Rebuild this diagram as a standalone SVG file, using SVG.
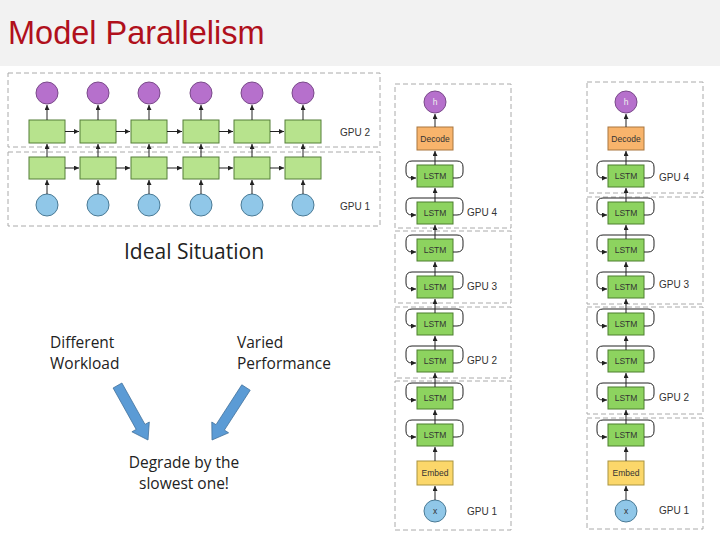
<svg xmlns="http://www.w3.org/2000/svg" width="720" height="540" viewBox="0 0 720 540">
<defs>
<marker id="ah" markerUnits="userSpaceOnUse" markerWidth="5" markerHeight="5" refX="5" refY="2.5" orient="auto"><path d="M0,0 L5,2.5 L0,5 z" fill="#222"/></marker>
<style>
.dash{fill:none;stroke:#aaa;stroke-width:1;stroke-dasharray:5 3}
.pc{fill:#b670cc;stroke:#7a4a8a;stroke-width:1}
.bc{fill:#90c7e8;stroke:#4a7a95;stroke-width:1}
.gb{fill:#b7e38d;stroke:#557f38;stroke-width:1}
.ls{fill:#8dd35f;stroke:#4d7f2f;stroke-width:1}
.dec{fill:#f8b46c;stroke:#a9763f;stroke-width:1}
.emb{fill:#fbd76a;stroke:#a99440;stroke-width:1}
.ln{fill:none;stroke:#222;stroke-width:1;marker-end:url(#ah)}
.t{font-family:"Liberation Sans",Arial,sans-serif;fill:#333}
.g{font-size:10px}
.s{font-size:8.5px;text-anchor:middle}
.c{font-family:"Open Sans","Liberation Sans",sans-serif;fill:#222}
</style>
</defs>
<rect x="0" y="0" width="720" height="540" fill="#fff"/>
<rect x="0" y="0" width="720" height="66" fill="#f2f2f2"/>
<text x="8" y="44" font-family="Liberation Sans,Arial,sans-serif" font-size="32.5" fill="#b0101c">Model Parallelism</text>

<g id="left-frames">
<rect class="dash" x="8" y="73" width="372" height="74"/>
<rect class="dash" x="8" y="152" width="372" height="74"/>
<text class="t g" x="340" y="136">GPU 2</text>
<text class="t g" x="340" y="210">GPU 1</text>
</g>
<g id="out1"><circle class="pc" cx="47" cy="93" r="11"/></g>
<g id="out2"><circle class="pc" cx="98" cy="93" r="11"/></g>
<g id="out3"><circle class="pc" cx="149" cy="93" r="11"/></g>
<g id="out4"><circle class="pc" cx="201" cy="93" r="11"/></g>
<g id="out5"><circle class="pc" cx="252" cy="93" r="11"/></g>
<g id="out6"><circle class="pc" cx="303" cy="93" r="11"/></g>
<g id="top1"><rect class="gb" x="29" y="120" width="36" height="23"/></g>
<g id="top2"><rect class="gb" x="80" y="120" width="36" height="23"/></g>
<g id="top3"><rect class="gb" x="131" y="120" width="36" height="23"/></g>
<g id="top4"><rect class="gb" x="183" y="120" width="36" height="23"/></g>
<g id="top5"><rect class="gb" x="234" y="120" width="36" height="23"/></g>
<g id="top6"><rect class="gb" x="285" y="120" width="36" height="23"/></g>
<g id="bot1"><rect class="gb" x="29" y="157" width="36" height="22"/></g>
<g id="bot2"><rect class="gb" x="80" y="157" width="36" height="22"/></g>
<g id="bot3"><rect class="gb" x="131" y="157" width="36" height="22"/></g>
<g id="bot4"><rect class="gb" x="183" y="157" width="36" height="22"/></g>
<g id="bot5"><rect class="gb" x="234" y="157" width="36" height="22"/></g>
<g id="bot6"><rect class="gb" x="285" y="157" width="36" height="22"/></g>
<g id="in1"><circle class="bc" cx="47" cy="205" r="11"/></g>
<g id="in2"><circle class="bc" cx="98" cy="205" r="11"/></g>
<g id="in3"><circle class="bc" cx="149" cy="205" r="11"/></g>
<g id="in4"><circle class="bc" cx="201" cy="205" r="11"/></g>
<g id="in5"><circle class="bc" cx="252" cy="205" r="11"/></g>
<g id="in6"><circle class="bc" cx="303" cy="205" r="11"/></g>

<g id="left-connectors">
<path class="ln" d="M47,120V105"/><path class="ln" d="M98,120V105"/><path class="ln" d="M149,120V105"/><path class="ln" d="M201,120V105"/><path class="ln" d="M252,120V105"/><path class="ln" d="M303,120V105"/>
<path class="ln" d="M47,157V144"/><path class="ln" d="M98,157V144"/><path class="ln" d="M149,157V144"/><path class="ln" d="M201,157V144"/><path class="ln" d="M252,157V144"/><path class="ln" d="M303,157V144"/>
<path class="ln" d="M47,194V180"/><path class="ln" d="M98,194V180"/><path class="ln" d="M149,194V180"/><path class="ln" d="M201,194V180"/><path class="ln" d="M252,194V180"/><path class="ln" d="M303,194V180"/>
<path class="ln" d="M65,131.5H79"/><path class="ln" d="M116,131.5H130"/><path class="ln" d="M167,131.5H182"/><path class="ln" d="M219,131.5H233"/><path class="ln" d="M270,131.5H284"/>
<path class="ln" d="M65,168H79"/><path class="ln" d="M116,168H130"/><path class="ln" d="M167,168H182"/><path class="ln" d="M219,168H233"/><path class="ln" d="M270,168H284"/>
</g>

<text class="c" x="124" y="259" font-size="21">Ideal Situation</text>
<text class="c" x="50" y="348" font-size="15.5">Different</text>
<text class="c" x="50" y="369" font-size="15.5">Workload</text>
<text class="c" x="237" y="348" font-size="15.5">Varied</text>
<text class="c" x="237" y="369" font-size="15.5">Performance</text>
<text class="c" x="184" y="468" font-size="15.5" text-anchor="middle">Degrade by the</text>
<text class="c" x="184" y="489" font-size="15.5" text-anchor="middle">slowest one!</text>
<g id="arrow-left"><polygon points="121.9,383 145,424.4 149.3,422 148,440 131.9,431.8 136.2,429.4 113.1,388" fill="#5b9bd5" stroke="#41719c" stroke-width="0.8"/></g>
<g id="arrow-right"><polygon points="250.2,390.2 224.4,430.1 228.6,432.8 212,440 211.8,422 216,424.7 241.8,384.8" fill="#5b9bd5" stroke="#41719c" stroke-width="0.8"/></g>

<g id="c1-frames">
<rect class="dash" x="395" y="84" width="116" height="144"/>
<rect class="dash" x="395" y="231" width="116" height="72"/>
<rect class="dash" x="395" y="307" width="116" height="71"/>
<rect class="dash" x="395" y="381" width="116" height="149"/>
<text class="t g" x="467" y="216">GPU 4</text>
<text class="t g" x="467" y="290">GPU 3</text>
<text class="t g" x="467" y="364">GPU 2</text>
<text class="t g" x="467" y="515">GPU 1</text>
</g>
<g id="c1-h"><circle class="pc" cx="435" cy="102" r="11"/><text class="t s" x="435" y="105" style="fill:#eee">h</text></g>
<g id="c1-decode"><rect class="dec" x="417" y="127" width="36" height="23"/><text class="t s" x="435" y="141.5">Decode</text></g>
<g id="c1-lstm0"><rect class="ls" x="417" y="165" width="36" height="22"/><text class="t s" x="435" y="179">LSTM</text></g>
<g id="c1-lstm1"><rect class="ls" x="417" y="202" width="36" height="22"/><text class="t s" x="435" y="216">LSTM</text></g>
<g id="c1-lstm2"><rect class="ls" x="417" y="239" width="36" height="22"/><text class="t s" x="435" y="253">LSTM</text></g>
<g id="c1-lstm3"><rect class="ls" x="417" y="276" width="36" height="22"/><text class="t s" x="435" y="290">LSTM</text></g>
<g id="c1-lstm4"><rect class="ls" x="417" y="313" width="36" height="22"/><text class="t s" x="435" y="327">LSTM</text></g>
<g id="c1-lstm5"><rect class="ls" x="417" y="350" width="36" height="22"/><text class="t s" x="435" y="364">LSTM</text></g>
<g id="c1-lstm6"><rect class="ls" x="417" y="387" width="36" height="22"/><text class="t s" x="435" y="401">LSTM</text></g>
<g id="c1-lstm7"><rect class="ls" x="417" y="424" width="36" height="22"/><text class="t s" x="435" y="438">LSTM</text></g>
<g id="c1-embed"><rect class="emb" x="417" y="461" width="36" height="24"/><text class="t s" x="435" y="476">Embed</text></g>
<g id="c1-x"><circle class="bc" cx="435" cy="511" r="11"/><text class="t s" x="435" y="514">x</text></g>

<g id="c2-frames">
<rect class="dash" x="587" y="82" width="116" height="111"/>
<rect class="dash" x="587" y="197" width="116" height="107"/>
<rect class="dash" x="587" y="307" width="116" height="107"/>
<rect class="dash" x="587" y="418" width="116" height="111"/>
<text class="t g" x="659" y="181">GPU 4</text>
<text class="t g" x="659" y="288">GPU 3</text>
<text class="t g" x="659" y="401">GPU 2</text>
<text class="t g" x="659" y="514">GPU 1</text>
</g>
<g id="c2-h"><circle class="pc" cx="626" cy="102" r="11"/><text class="t s" x="626" y="105" style="fill:#eee">h</text></g>
<g id="c2-decode"><rect class="dec" x="608" y="127" width="36" height="23"/><text class="t s" x="626" y="141.5">Decode</text></g>
<g id="c2-lstm0"><rect class="ls" x="608" y="165" width="36" height="22"/><text class="t s" x="626" y="179">LSTM</text></g>
<g id="c2-lstm1"><rect class="ls" x="608" y="202" width="36" height="22"/><text class="t s" x="626" y="216">LSTM</text></g>
<g id="c2-lstm2"><rect class="ls" x="608" y="239" width="36" height="22"/><text class="t s" x="626" y="253">LSTM</text></g>
<g id="c2-lstm3"><rect class="ls" x="608" y="276" width="36" height="22"/><text class="t s" x="626" y="290">LSTM</text></g>
<g id="c2-lstm4"><rect class="ls" x="608" y="313" width="36" height="22"/><text class="t s" x="626" y="327">LSTM</text></g>
<g id="c2-lstm5"><rect class="ls" x="608" y="350" width="36" height="22"/><text class="t s" x="626" y="364">LSTM</text></g>
<g id="c2-lstm6"><rect class="ls" x="608" y="387" width="36" height="22"/><text class="t s" x="626" y="401">LSTM</text></g>
<g id="c2-lstm7"><rect class="ls" x="608" y="424" width="36" height="22"/><text class="t s" x="626" y="438">LSTM</text></g>
<g id="c2-embed"><rect class="emb" x="608" y="461" width="36" height="24"/><text class="t s" x="626" y="476">Embed</text></g>
<g id="c2-x"><circle class="bc" cx="626" cy="511" r="11"/><text class="t s" x="626" y="514">x</text></g>

<g id="right-connectors">
<path class="ln" d="M435,500V486"/><path class="ln" d="M435,461V447"/><path class="ln" d="M435,424V410"/><path class="ln" d="M435,387V373"/><path class="ln" d="M435,350V336"/><path class="ln" d="M435,313V299"/><path class="ln" d="M435,276V262"/><path class="ln" d="M435,239V225"/><path class="ln" d="M435,202V188"/><path class="ln" d="M435,165V151"/><path class="ln" d="M435,127V114"/>
<path class="ln" d="M626,500V486"/><path class="ln" d="M626,461V447"/><path class="ln" d="M626,424V410"/><path class="ln" d="M626,387V373"/><path class="ln" d="M626,350V336"/><path class="ln" d="M626,313V299"/><path class="ln" d="M626,276V262"/><path class="ln" d="M626,239V225"/><path class="ln" d="M626,202V188"/><path class="ln" d="M626,165V151"/><path class="ln" d="M626,127V114"/>
<path class="ln" d="M453,178H457Q463,178 463,172V167Q463,161 457,161H412Q406,161 406,167V172Q406,178 412,178H416"/>
<path class="ln" d="M453,215H457Q463,215 463,209V204Q463,198 457,198H412Q406,198 406,204V209Q406,215 412,215H416"/>
<path class="ln" d="M453,252H457Q463,252 463,246V241Q463,235 457,235H412Q406,235 406,241V246Q406,252 412,252H416"/>
<path class="ln" d="M453,289H457Q463,289 463,283V278Q463,272 457,272H412Q406,272 406,278V283Q406,289 412,289H416"/>
<path class="ln" d="M453,326H457Q463,326 463,320V315Q463,309 457,309H412Q406,309 406,315V320Q406,326 412,326H416"/>
<path class="ln" d="M453,363H457Q463,363 463,357V352Q463,346 457,346H412Q406,346 406,352V357Q406,363 412,363H416"/>
<path class="ln" d="M453,400H457Q463,400 463,394V389Q463,383 457,383H412Q406,383 406,389V394Q406,400 412,400H416"/>
<path class="ln" d="M453,437H457Q463,437 463,431V426Q463,420 457,420H412Q406,420 406,426V431Q406,437 412,437H416"/>
<path class="ln" d="M644,178H648Q654,178 654,172V167Q654,161 648,161H603Q597,161 597,167V172Q597,178 603,178H607"/>
<path class="ln" d="M644,215H648Q654,215 654,209V204Q654,198 648,198H603Q597,198 597,204V209Q597,215 603,215H607"/>
<path class="ln" d="M644,252H648Q654,252 654,246V241Q654,235 648,235H603Q597,235 597,241V246Q597,252 603,252H607"/>
<path class="ln" d="M644,289H648Q654,289 654,283V278Q654,272 648,272H603Q597,272 597,278V283Q597,289 603,289H607"/>
<path class="ln" d="M644,326H648Q654,326 654,320V315Q654,309 648,309H603Q597,309 597,315V320Q597,326 603,326H607"/>
<path class="ln" d="M644,363H648Q654,363 654,357V352Q654,346 648,346H603Q597,346 597,352V357Q597,363 603,363H607"/>
<path class="ln" d="M644,400H648Q654,400 654,394V389Q654,383 648,383H603Q597,383 597,389V394Q597,400 603,400H607"/>
<path class="ln" d="M644,437H648Q654,437 654,431V426Q654,420 648,420H603Q597,420 597,426V431Q597,437 603,437H607"/>
</g>
</svg>
